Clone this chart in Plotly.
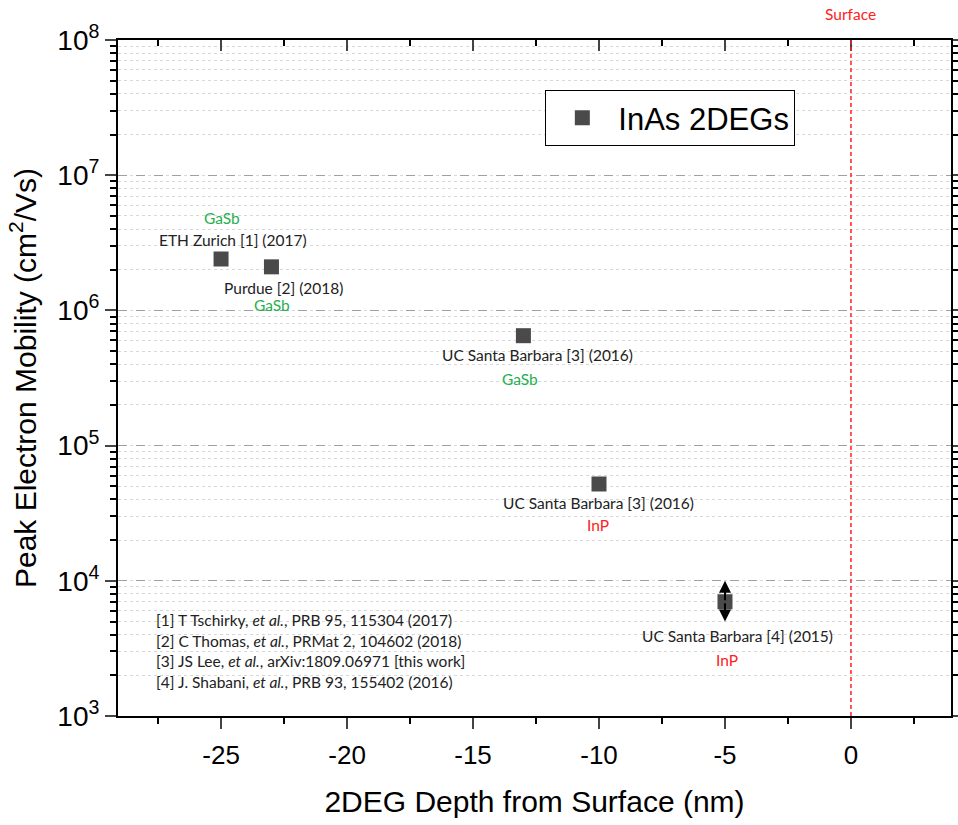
import plotly.graph_objects as go
import math

# ---- data ----
depth_nm = [-25, -23, -13, -10, -5]
mobility = [2.4e6, 2.1e6, 6.5e5, 5.2e4, 7.0e3]
labels = ["ETH Zurich [1] (2017)", "Purdue [2] (2018)", "UC Santa Barbara [3] (2016)",
          "UC Santa Barbara [3] (2016)", "UC Santa Barbara [4] (2015)"]
substrates = ["GaSb", "GaSb", "GaSb", "InP", "InP"]
range_low = [None, None, None, None, 5.0e3]
range_high = [None, None, None, None, 1.0e4]
surface_x = 0
x_ticks = [-25, -20, -15, -10, -5, 0]
x_tick_text = ["-25", "-20", "-15", "-10", "-5", "0"]
y_ticks = [1e3, 1e4, 1e5, 1e6, 1e7, 1e8]
y_tick_text = ["10<sup>3</sup>", "10<sup>4</sup>", "10<sup>5</sup>", "10<sup>6</sup>",
               "10<sup>7</sup>", "10<sup>8</sup>"]
references = [
    "[1] T Tschirky, <i>et al.</i>, PRB 95, 115304 (2017)",
    "[2] C Thomas, <i>et al.</i>, PRMat 2, 104602 (2018)",
    "[3] JS Lee, <i>et al.</i>, arXiv:1809.06971 [this work]",
    "[4] J. Shabani, <i>et al.</i>, PRB 93, 155402 (2016)",
]

GREEN = "#1fb04f"
RED = "#ff2020"
TXT = "#222222"
ANN_FONT = "Lato"
ANN_SIZE = 15.5

fig = go.Figure()
fig.add_trace(go.Scatter(
    x=depth_nm, y=mobility, mode="markers", name="InAs 2DEGs",
    marker=dict(symbol="square", size=15, color="#4a4a4a"),
    showlegend=True,
))
# dummy for mirror axes
fig.add_trace(go.Scatter(x=[None], y=[None], xaxis="x2", yaxis="y2", showlegend=False,
                         hoverinfo="skip"))

# label placement offsets (pixels) relative to points: (name dx, name dy, sub dx, sub dy)
offsets = [
    (12, -19, 1, -41),
    (12, 21, 1, 38),
    (14, 19, -3, 43),
    (-1, 19, -1, 41),
    (13, 34, 2, 58),
]
for xv, yv, lab, sub, (ndx, ndy, sdx, sdy) in zip(depth_nm, mobility, labels, substrates, offsets):
    fig.add_annotation(x=xv, y=math.log10(yv), text=lab, showarrow=False,
                       xshift=ndx, yshift=-ndy, font=dict(family=ANN_FONT, size=ANN_SIZE, color=TXT))
    fig.add_annotation(x=xv, y=math.log10(yv), text=sub, showarrow=False,
                       xshift=sdx, yshift=-sdy,
                       font=dict(family=ANN_FONT, size=ANN_SIZE,
                                 color=GREEN if sub == "GaSb" else RED))

# range arrows
for xv, yv, lo, hi in zip(depth_nm, mobility, range_low, range_high):
    if lo is None:
        continue
    for end in (lo, hi):
        fig.add_annotation(x=xv, y=math.log10(end), ax=xv, ay=math.log10(yv),
                           xref="x", yref="y", axref="x", ayref="y",
                           showarrow=True, arrowhead=2, arrowsize=1.2, arrowwidth=2,
                           arrowcolor="black", text="")

# surface line
fig.add_shape(type="line", x0=surface_x, x1=surface_x, y0=0, y1=1, xref="x", yref="paper",
              line=dict(color=RED, width=1.5, dash="4px,3px"))
fig.add_annotation(x=surface_x, y=1, yref="paper", yshift=37, text="Surface", showarrow=False,
                   font=dict(family=ANN_FONT, size=ANN_SIZE, color=RED))

# references block
for i, r in enumerate(references):
    fig.add_annotation(x=0.043, y=0.142 - i * 0.0305, xref="paper", yref="paper", text=r,
                       showarrow=False, xanchor="left", yanchor="middle",
                       font=dict(family=ANN_FONT, size=ANN_SIZE, color=TXT))

xrange = [-29.09, 3.97]
yrange = [3, 8]

fig.update_layout(
    width=958, height=825,
    margin=dict(l=118, r=7, t=40, b=109, autoexpand=False),
    plot_bgcolor="white", paper_bgcolor="white",
    font=dict(family="Liberation Sans", color="black"),
    xaxis=dict(range=xrange, tickvals=x_ticks, ticktext=x_tick_text, ticks="outside",
               ticklen=11, tickwidth=2, automargin=False, ticklabelstandoff=4,
               showline=True, linewidth=2, linecolor="black", showgrid=False, zeroline=False,
               tickfont=dict(family="Liberation Sans", size=26, color="black"),
               minor=dict(dtick=2.5, tick0=0, ticks="outside", ticklen=6, tickwidth=2,
                          tickcolor="black", showgrid=False),
               title=dict(text="2DEG Depth from Surface (nm)",
                          font=dict(family="Liberation Sans", size=30, color="black"),
                          standoff=22)),
    xaxis2=dict(range=xrange, overlaying="x", side="top", anchor="y2", tickvals=x_ticks,
                ticks="inside", ticklen=11, tickwidth=2, showticklabels=False, automargin=False,
                showline=True, linewidth=2, linecolor="black", showgrid=False, zeroline=False,
                minor=dict(dtick=2.5, tick0=0, ticks="inside", ticklen=6, tickwidth=2,
                           tickcolor="black", showgrid=False)),
    yaxis=dict(type="log", range=yrange, tickvals=y_ticks, ticktext=y_tick_text,
               ticks="outside", ticklen=11, tickwidth=2, automargin=False,
               showline=True, linewidth=2, linecolor="black",
               showgrid=True, gridcolor="#a0a0a0", griddash="dash", gridwidth=1,
               tickfont=dict(family="Liberation Sans", size=28, color="black"),
               minor=dict(dtick="D1", ticks="outside", ticklen=6, tickwidth=2, tickcolor="black",
                          showgrid=True, gridcolor="#d8d8d8", griddash="dot", gridwidth=1),
               title=dict(text="Peak Electron Mobility (cm<sup>2</sup>/Vs)",
                          font=dict(family="Liberation Sans", size=30, color="black"),
                          standoff=12)),
    yaxis2=dict(type="log", range=yrange, overlaying="y", side="right", anchor="x2",
                tickvals=y_ticks, ticks="outside", ticklen=11, tickwidth=2, showticklabels=False,
                automargin=False,
                showline=True, linewidth=2, linecolor="black", showgrid=False, zeroline=False,
                minor=dict(dtick="D1", ticks="outside", ticklen=6, tickwidth=2,
                           tickcolor="black", showgrid=False)),
    legend=dict(x=0.513, y=0.926, xanchor="left", yanchor="top",
                bordercolor="black", borderwidth=1, bgcolor="white",
                font=dict(family="Liberation Sans", size=31, color="black"),
                itemwidth=62),
    showlegend=True,
)

fig.write_html("out.html")
